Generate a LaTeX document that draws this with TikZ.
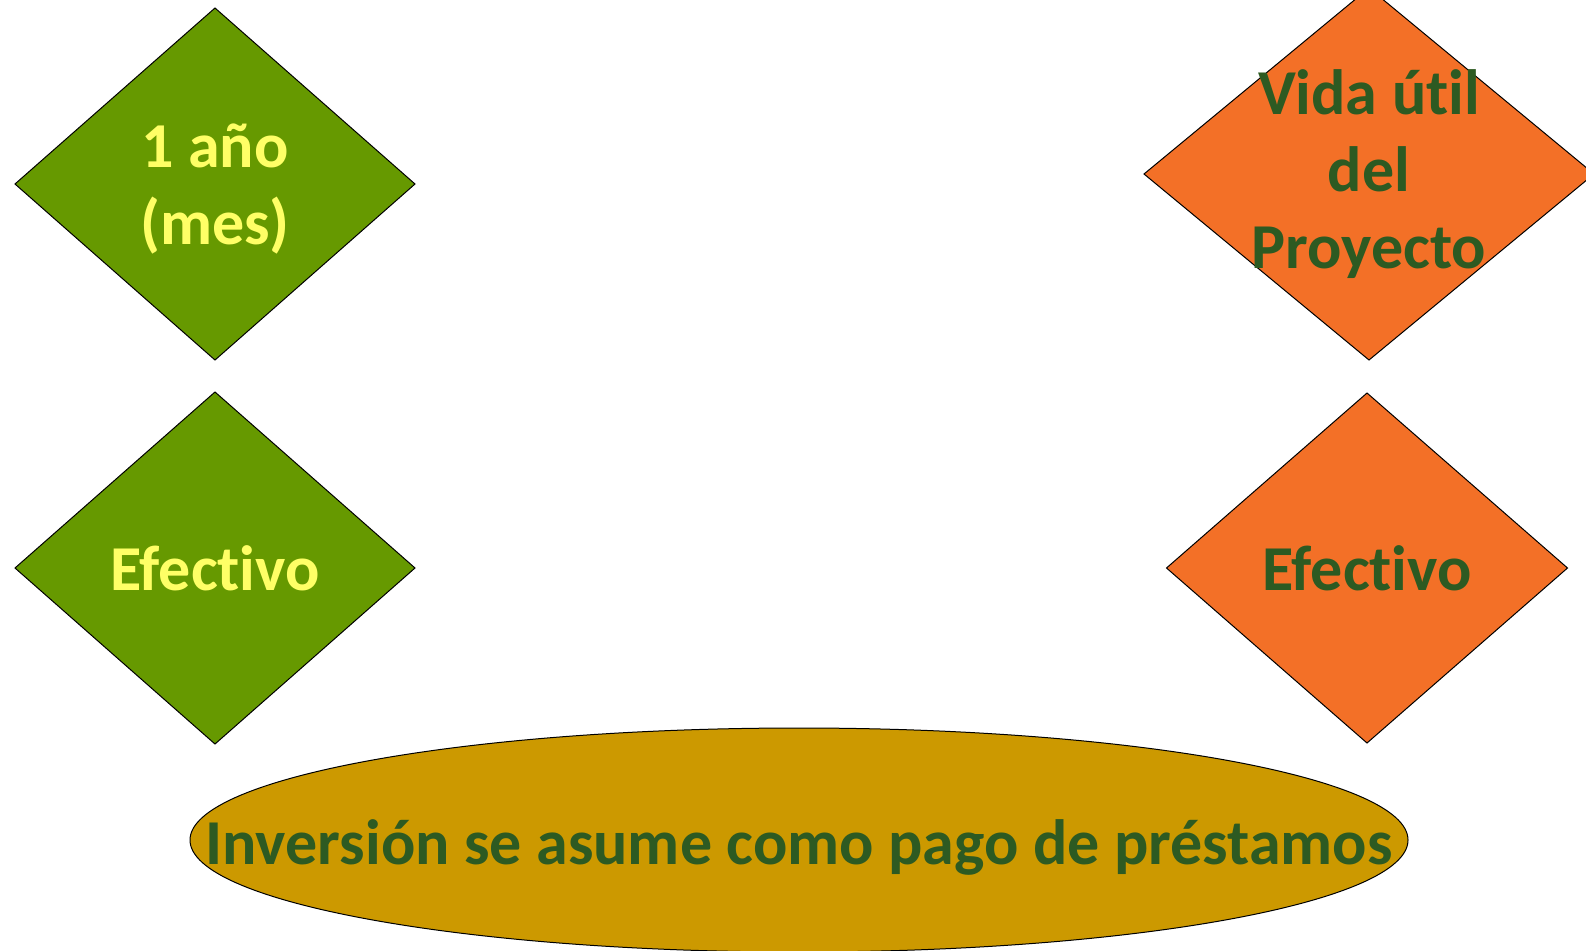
\documentclass[tikz,border=0pt]{standalone}
\usepackage{fontspec}
\setmainfont{Carlito}[Ligatures=NoCommon]
\usepackage{xcolor}
\usepackage{tikz}
\usetikzlibrary{shapes.geometric}

\definecolor{verdehoja}{HTML}{669900}
\definecolor{naranja}{HTML}{F37027}
\definecolor{mostaza}{HTML}{CC9900}
\definecolor{verdeosc}{HTML}{2D5A22}
\definecolor{amarillo}{HTML}{FFFF66}

\begin{document}
\begin{tikzpicture}[x=1pt,y=-1pt,
  rombo/.style={shape=diamond,draw=black,line width=1pt,inner sep=0pt,outer sep=0pt},
  elipse/.style={shape=ellipse,draw=black,line width=1pt,inner sep=0pt,outer sep=0pt,fill=mostaza},
  texto/.style={align=center,inner sep=0pt,font=\bfseries\fontsize{64}{77}\selectfont}]

\useasboundingbox (0,0) rectangle (1586,950);
\clip (0,0) rectangle (1586,950);

%% shapes

\node[rombo,fill=verdehoja,minimum width=400,minimum height=352] (anio) at (215,184) {};
\node[rombo,fill=verdehoja,minimum width=400,minimum height=352] (efec1) at (215,568) {};
\node[rombo,fill=naranja,minimum width=450,minimum height=372] (vida) at (1369,174) {};
\node[rombo,fill=naranja,minimum width=401,minimum height=350] (efec2) at (1367,568) {};
\node[elipse,minimum width=1218,minimum height=224] (inv) at (799,840) {};

%% texts

\node[texto,text=amarillo,yshift=-5pt] at (anio) {1 año\\(mes)};
\node[texto,text=amarillo] at (efec1) {Efectivo};
\node[texto,text=verdeosc] at (vida) {Vida útil\\del\\Proyecto};
\node[texto,text=verdeosc] at (efec2) {Efectivo};
\node[texto,text=verdeosc,yshift=-7pt] at (inv) {Inversión se asume como pago de préstamos};

\end{tikzpicture}
\end{document}
